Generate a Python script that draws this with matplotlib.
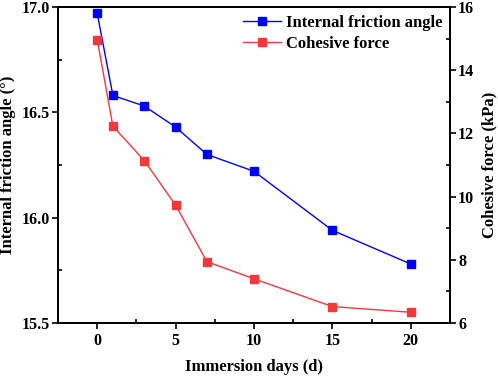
import matplotlib.pyplot as plt
from matplotlib.ticker import MultipleLocator

days = [0, 1, 3, 5, 7, 10, 15, 20]
friction_angle = [16.97, 16.58, 16.53, 16.43, 16.30, 16.22, 15.94, 15.78]
cohesive_force = [14.97, 12.23, 11.14, 9.73, 7.94, 7.40, 6.52, 6.34]

plt.rcParams['font.family'] = ['Liberation Serif', 'DejaVu Serif']
plt.rcParams['font.weight'] = 'bold'

fig = plt.figure(figsize=(4.98, 3.77), dpi=100)
ax = fig.add_axes([0.1165, 0.1432, 0.7871, 0.8382])
ax2 = ax.twinx()

blue = '#0000ff'
red = '#f5383c'
l1, = ax.plot(days, friction_angle, color=blue, marker='s', markersize=5.5, linewidth=1,
              label='Internal friction angle')
l2, = ax2.plot(days, cohesive_force, color=red, marker='s', markersize=5.5, linewidth=1,
               label='Cohesive force')

ax.set_xlim(-2.5, 22.5)
ax.set_ylim(15.5, 17.0)
ax2.set_ylim(6, 16)
ax.xaxis.set_major_locator(MultipleLocator(5))
ax.xaxis.set_minor_locator(MultipleLocator(2.5))
ax.yaxis.set_major_locator(MultipleLocator(0.5))
ax.yaxis.set_minor_locator(MultipleLocator(0.25))
ax2.yaxis.set_major_locator(MultipleLocator(2))
ax2.yaxis.set_minor_locator(MultipleLocator(1))
ax.yaxis.set_major_formatter(plt.FormatStrFormatter('%.1f'))

for a in (ax, ax2):
    a.tick_params(which='major', direction='out', length=4.3, width=1.2, pad=1.5, labelsize=11.5)
    a.tick_params(which='minor', direction='in', length=3, width=1.2)
    for s in a.spines.values():
        s.set_linewidth(1.3)
ax.tick_params(axis='x', which='major', pad=3)

ax.set_xlabel('Immersion days (d)', fontsize=12, fontweight='bold', labelpad=7)
ax.set_ylabel('Internal friction angle (°)', fontsize=12, fontweight='bold', labelpad=4)
ax2.set_ylabel('Cohesive force (kPa)', fontsize=12, fontweight='bold', labelpad=5)

ax.legend(handles=[l1, l2], loc='upper right', frameon=False, fontsize=12,
          handlelength=2.3, borderaxespad=0.05, labelspacing=0.3, handletextpad=0.3)

fig.savefig('out.png', dpi=100)
